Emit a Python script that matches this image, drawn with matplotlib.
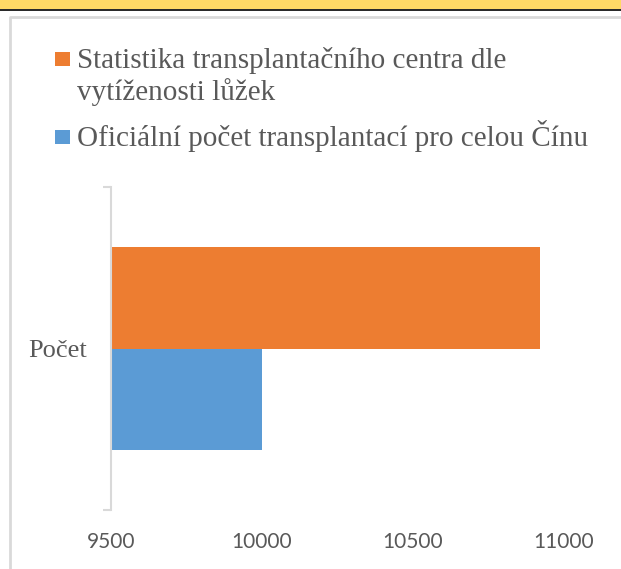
import matplotlib.pyplot as plt
from matplotlib.patches import Rectangle

# data
categories = ["Počet"]
series_labels = ["Statistika transplantačního centra dle\nvytíženosti lůžek",
                 "Oficiální počet transplantací pro celou Čínu"]
series_values = [10920, 10000]
series_colors = ["#ED7D31", "#5B9BD5"]
x_ticks = [9500, 10000, 10500, 11000]

W, H = 621, 569
fig = plt.figure(figsize=(W / 100, H / 100), dpi=100)


def fx(px):
    return px / W


def fy(py):
    return 1 - py / H


# yellow strip + black line at the top
fig.patches.append(Rectangle((0, fy(9)), 1, 9 / H, transform=fig.transFigure,
                             facecolor="#FFD966", edgecolor="none"))
fig.add_artist(plt.Line2D([0, 1], [fy(9.5), fy(9.5)], transform=fig.transFigure,
                          color="black", lw=1.2))
# chart frame (runs off the right and bottom edge)
fig.add_artist(plt.Line2D([fx(10), fx(10), fx(640)], [fy(600), fy(17), fy(17)],
                          transform=fig.transFigure, color="#D9D9D9", lw=2))

ax = fig.add_axes([fx(111), fy(510), fx(563.7) - fx(111), (510 - 187) / H])

h = 0.3127
offsets = [h / 2, -h / 2]
for v, off, c in zip(series_values, offsets, series_colors):
    ax.barh([0 + off], [v - x_ticks[0]], left=x_ticks[0], height=h, color=c)

ax.set_xlim(x_ticks[0], x_ticks[-1])
ax.set_ylim(-0.5, 0.5)
for s in ["top", "right", "bottom"]:
    ax.spines[s].set_visible(False)
ax.spines["left"].set_color("#D9D9D9")
ax.spines["left"].set_linewidth(1.5)

ax.set_xticks(x_ticks)
ax.set_xticklabels([str(t) for t in x_ticks], family="Lato", fontsize=15, color="#595959")
ax.tick_params(axis="x", length=0, pad=15.5)

ax.set_yticks([-0.5, 0.5])
ax.set_yticklabels([])
ax.tick_params(axis="y", which="major", length=6, width=1.5, color="#D9D9D9", direction="out")
ax.set_yticks([0], minor=True)
ax.set_yticklabels(categories, minor=True, family="Liberation Serif", fontsize=19, color="#595959")
ax.tick_params(axis="y", which="minor", length=0, pad=17)

# legend
leg_y = [68, 146]
for lab, c, yb in zip(series_labels, series_colors, leg_y):
    fig.patches.append(Rectangle((fx(55), fy(yb - 2)), 15 / W, 14 / H, transform=fig.transFigure,
                                 facecolor=c, edgecolor="none"))
    first, *rest = lab.split("\n")
    fig.text(fx(77), fy(yb), first, family="Liberation Serif", fontsize=21,
             color="#595959", va="baseline", ha="left")
    for i, line in enumerate(rest):
        fig.text(fx(77), fy(yb + 32 * (i + 1)), line, family="Liberation Serif", fontsize=21,
                 color="#595959", va="baseline", ha="left")

fig.savefig("out.png", dpi=100)
